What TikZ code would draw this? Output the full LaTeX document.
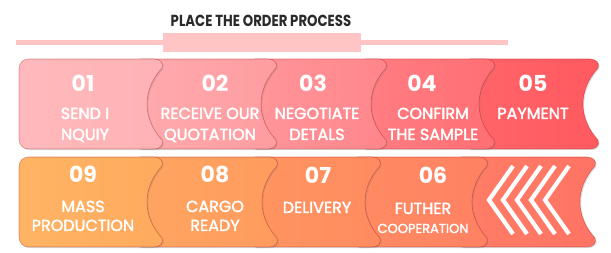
\documentclass[tikz,border=0pt]{standalone}
\usepackage{fontspec}
\setmainfont{Poppins}
\newfontfamily\labfont[FakeBold=2.2]{Poppins}
\usetikzlibrary{shadows}
\definecolor{lineP}{HTML}{FFC5C5}
\definecolor{titleC}{HTML}{2A2A2A}
\definecolor{ta1}{HTML}{FFB9BC}\definecolor{tb1}{HTML}{FFB2B5}
\definecolor{ta2}{HTML}{FFAAAD}\definecolor{tb2}{HTML}{FF9CA0}
\definecolor{ta3}{HTML}{FF959A}\definecolor{tb3}{HTML}{FF868B}
\definecolor{ta4}{HTML}{FF7D82}\definecolor{tb4}{HTML}{FF6F74}
\definecolor{ta5}{HTML}{FF6469}\definecolor{tb5}{HTML}{FF5A60}
\definecolor{ba1}{HTML}{FFB464}\definecolor{bb1}{HTML}{FFAA5E}
\definecolor{ba2}{HTML}{FFA560}\definecolor{bb2}{HTML}{FF9B5E}
\definecolor{ba3}{HTML}{FF9560}\definecolor{bb3}{HTML}{FF8B60}
\definecolor{ba4}{HTML}{FF8B62}\definecolor{bb4}{HTML}{FF8163}
\definecolor{ba5}{HTML}{FF7D66}\definecolor{bb5}{HTML}{FF7364}
% segment with hidden left part: #1 xl, #2 xo, #3 top, #4 bottom
\newcommand\segpath[4]{(#1,#3) -- ({#2-8},#3) .. controls ({#2-2},#3) and ({#2+2},{#3+4}) .. (#2,{#3+9}) .. controls ({#2-20},{#3+31}) and ({#2-20},{#4-31}) .. (#2,{#4-9}) .. controls ({#2+2},{#4-4}) and ({#2-2},#4) .. ({#2-8},#4) -- (#1,#4) -- cycle}
% first segment with rounded left side
\newcommand\firstpath[3]{(29,#2) -- ({#1-8},#2) .. controls ({#1-2},#2) and ({#1+2},{#2+4}) .. (#1,{#2+9}) .. controls ({#1-20},{#2+31}) and ({#1-20},{#3-31}) .. (#1,{#3-9}) .. controls ({#1+2},{#3-4}) and ({#1-2},#3) .. ({#1-8},#3) -- (29,#3) .. controls (23,#3) and (19,{#3-4}) .. (19,{#3-10}) -- (19,{#2+10}) .. controls (19,{#2+4}) and (23,#2) .. (29,#2) -- cycle}
\begin{document}
\begin{tikzpicture}[x=1pt,y=-1pt,
  seg/.style={draw=black!40!red, draw opacity=0.35, line width=0.6pt,
    drop shadow={shadow xshift=1.2pt, shadow yshift=-1.2pt, opacity=0.25}},
  num/.style={text=white, font=\fontsize{22}{22}\selectfont\bfseries, anchor=base, inner sep=0},
  lab/.style={text=white, font=\labfont\fontsize{16}{16}\selectfont, anchor=base, inner sep=0},
  labs/.style={text=white, font=\labfont\fontsize{13}{13}\selectfont, anchor=base, inner sep=0},
  chev/.style={draw=white, line width=4.2pt, line join=miter}]
\useasboundingbox (0,0) rectangle (611,253);
% title
\node[text=titleC, font=\fontsize{16}{16}\selectfont\bfseries, anchor=base, inner sep=0] (title) at (261,27) {\scalebox{0.83}[1]{PLACE THE ORDER PROCESS}};
\fill[lineP] (16,40) rectangle (508,45);
\fill[lineP] (163,33) rectangle (361,52);
% top row (right to left)
\path[seg, left color=ta5, right color=tb5] \segpath{470}{598}{59}{149};
\path[seg, left color=ta4, right color=tb4] \segpath{365}{494}{59}{149};
\path[seg, left color=ta3, right color=tb3] \segpath{255}{386}{59}{149};
\path[seg, left color=ta2, right color=tb2] \segpath{140}{276}{59}{149};
\path[seg, left color=ta1, right color=tb1] \firstpath{162}{59}{149};
% bottom row
\path[seg, left color=ba5, right color=bb5] \segpath{462}{595}{157}{247};
\path[seg, left color=ba4, right color=bb4] \segpath{358}{487}{157}{247};
\path[seg, left color=ba3, right color=bb3] \segpath{255}{380}{157}{247};
\path[seg, left color=ba2, right color=bb2] \segpath{140}{277}{157}{247};
\path[seg, left color=ba1, right color=bb1] \firstpath{162}{157}{247};
% chevrons
\foreach \t in {489,503,517,531,545}{
  \draw[chev] ({\t+24},166) -- (\t,200) -- ({\t+24},234);
}
% top texts
\node[num] (n01) at (83,92) {01};
\node[lab] (l01a) at (85,119) {SEND I};
\node[lab] (l01b) at (85,140) {NQUIY};
\node[num] (n02) at (215,92) {02};
\node[lab] (l02a) at (210,119) {RECEIVE OUR};
\node[lab] (l02b) at (210,140) {QUOTATION};
\node[num] (n03) at (313,92) {03};
\node[lab] (l03a) at (317,119) {NEGOTIATE};
\node[lab] (l03b) at (317,140) {DETALS};
\node[num] (n04) at (422,92) {04};
\node[lab] (l04a) at (433,119) {CONFIRM};
\node[lab] (l04b) at (433,140) {THE SAMPLE};
\node[num] (n05) at (533,92) {05};
\node[lab] (l05a) at (533,119) {PAYMENT};
% bottom texts
\node[num] (n09) at (83,183) {09};
\node[lab] (l09a) at (83,212) {MASS};
\node[lab] (l09b) at (83,231) {PRODUCTION};
\node[num] (n08) at (215,183) {08};
\node[lab] (l08a) at (215,212) {CARGO};
\node[lab] (l08b) at (215,231) {READY};
\node[num] (n07) at (318,184) {07};
\node[lab] (l07a) at (317,213) {DELIVERY};
\node[num] (n06) at (433,184) {06};
\node[lab] (l06a) at (423,214) {FUTHER};
\node[labs] (l06b) at (423,233) {COOPERATION};
\end{tikzpicture}
\end{document}
